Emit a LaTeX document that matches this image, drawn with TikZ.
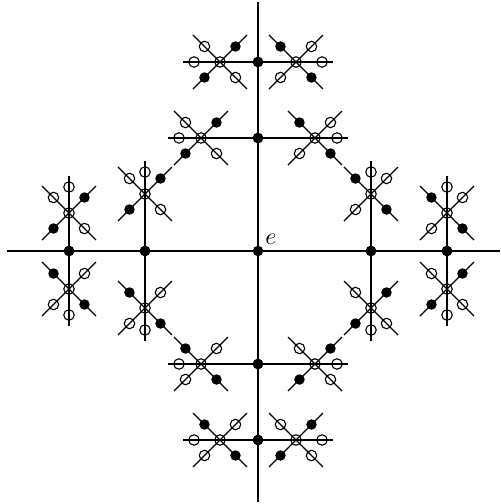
\documentclass[tikz,border=0pt]{standalone}
\usetikzlibrary{calc}
\tikzset{
  fdot/.style={circle,fill=black,inner sep=0pt,minimum size=10.5pt},
  odot/.style={circle,draw=black,line width=1.1pt,inner sep=0pt,minimum size=10.5pt},
}
\begin{document}
\begin{tikzpicture}[x=1pt,y=1pt,line width=1.3pt]
\useasboundingbox (-258,-253) rectangle (243,251);
\coordinate (west) at (-251,0);
\coordinate (east) at (242,0);
\coordinate (south) at (0,-251);
\coordinate (north) at (0,249);
\draw (west) -- (east);
\draw (south) -- (north);
% one half arm, then its 8 mirror images
\foreach \ma/\mb/\mc/\md in {1/0/0/1, -1/0/0/1, 1/0/0/-1, -1/0/0/-1, 0/1/1/0, 0/-1/1/0, 0/1/-1/0, 0/-1/-1/0} {
 \begin{scope}[cm={\ma,\mb,\mc,\md,(0,0)}]
 \foreach \dd/\cc/\oo/\ll in {113/57/79/90, 189/38/64/75} {
  \coordinate (foot) at (-\dd,0);
  \coordinate (tip) at (-\dd,\ll);
  \coordinate (cr) at (-\dd,\cc);
  \coordinate (ne) at ({-\dd+27},{\cc+27});
  \coordinate (sw) at ({-\dd-27},{\cc-27});
  \coordinate (nw) at ({-\dd-27},{\cc+27});
  \coordinate (se) at ({-\dd+27},{\cc-27});
  \draw (foot) -- (tip);
  \draw (sw) -- (ne);
  \draw (nw) -- (se);
  \node[fdot] (ax) at (foot) {};
  \node[odot] (x) at (cr) {};
  \node[odot] (o) at (-\dd,\oo) {};
  \node[fdot] (f1) at ({-\dd+15.5},{\cc+15.5}) {};
  \node[fdot] (f2) at ({-\dd-15.5},{\cc-15.5}) {};
  \node[odot] (o1) at ({-\dd-15.5},{\cc+15.5}) {};
  \node[odot] (o2) at ({-\dd+15.5},{\cc-15.5}) {};
 }
 \end{scope}
}
\node[fdot] (e) at (0,0) {};
\node[scale=2.4] (elab) at (13,12) {$e$};
\end{tikzpicture}
\end{document}
